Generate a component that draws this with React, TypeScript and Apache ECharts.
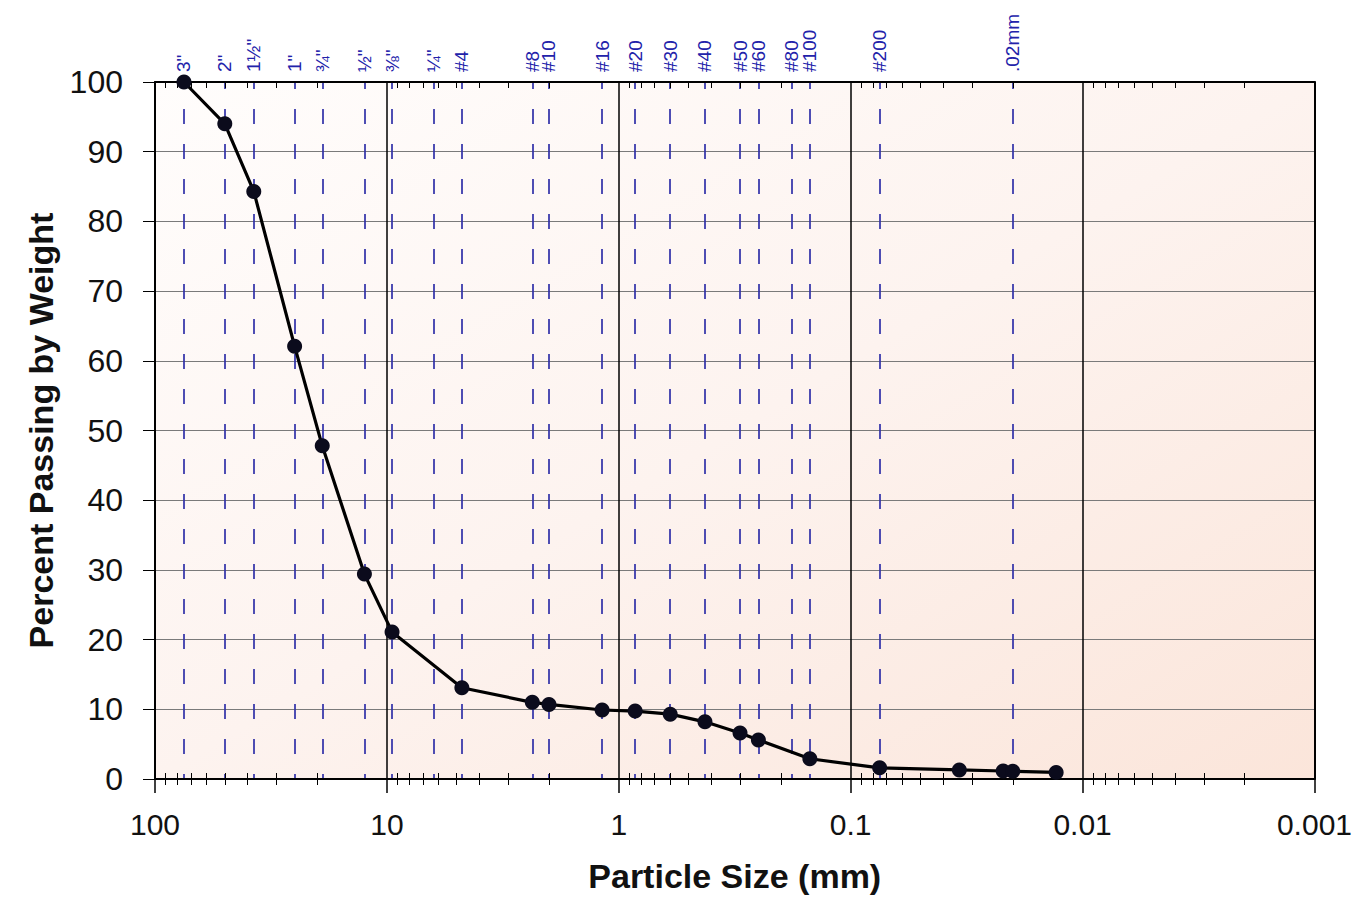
import React, { useEffect, useRef } from "react";
import * as echarts from "echarts";

// Gradation data (particle size in mm, percent passing by weight)
const SIZE_MM = [75, 50, 37.5, 25, 19, 12.5, 9.5, 4.75, 2.36, 2.0, 1.18, 0.85, 0.6, 0.425, 0.3, 0.25, 0.15, 0.075, 0.034, 0.022, 0.02, 0.013];
const PERCENT_PASSING = [100, 94, 84.3, 62.1, 47.8, 29.4, 21.1, 13.1, 11.0, 10.7, 9.9, 9.75, 9.3, 8.2, 6.6, 5.6, 2.9, 1.6, 1.3, 1.15, 1.1, 0.95];

// Sieve designations shown along the top
const SIEVE_MM = [75, 50, 37.5, 25, 19, 12.5, 9.5, 6.3, 4.75, 2.36, 2.0, 1.18, 0.85, 0.6, 0.425, 0.3, 0.25, 0.18, 0.15, 0.075, 0.02];
const SIEVE_LABELS = ['3"', '2"', '1½"', '1"', '¾"', '½"', '⅜"', '¼"', '#4', '#8', '#10', '#16', '#20', '#30', '#40', '#50', '#60', '#80', '#100', '#200', '.02mm'];

// Axis ticks
const DECADES = [0.001, 0.01, 0.1, 1, 10, 100];
const DECADE_LABELS = ["0.001", "0.01", "0.1", "1", "10", "100"];
const MINOR_MULTIPLIERS = [2, 3, 4, 5, 6, 7, 8, 9];

const FONT = "Arial, 'Liberation Sans', sans-serif";

function findLabel(values: number[], labels: string[], v: number): string {
  for (let i = 0; i < values.length; i++) {
    if (Math.abs(Math.log10(v) - Math.log10(values[i])) < 1e-4) return labels[i];
  }
  return "";
}

export default function App() {
  const ref = useRef<HTMLDivElement>(null);

  useEffect(() => {
    if (!ref.current) return;
    const chart = echarts.init(ref.current, null, { renderer: "svg" });

    const minorTicks: number[] = [];
    DECADES.slice(0, -1).forEach((d) => MINOR_MULTIPLIERS.forEach((m) => minorTicks.push(m * d)));

    const baseLog = {
      type: "log" as const,
      logBase: 10,
      min: 0.001,
      max: 100,
      inverse: true,
      gridIndex: 0,
    };

    const option: any = {
      animation: false,
      backgroundColor: "#ffffff",
      grid: {
        left: 155,
        right: 40,
        top: 82,
        bottom: 117,
        show: true,
        borderWidth: 0,
        backgroundColor: new echarts.graphic.LinearGradient(0, 0, 1, 1, [
          { offset: 0, color: "#fffdfc" },
          { offset: 0.5, color: "#fdf3ef" },
          { offset: 1, color: "#fbe5da" },
        ]),
      },
      xAxis: [
        {
          ...baseLog,
          position: "bottom",
          name: "Particle Size (mm)",
          nameLocation: "middle",
          nameGap: 80,
          nameTextStyle: { fontFamily: FONT, fontSize: 34, fontWeight: "bold", color: "#111" },
          axisLine: { show: true, lineStyle: { color: "#000", width: 2 } },
          axisTick: { show: true, length: 14, customValues: DECADES, lineStyle: { color: "#000", width: 1.5 } },
          axisLabel: {
            show: true,
            customValues: DECADES,
            margin: 30,
            fontFamily: FONT,
            fontSize: 30,
            color: "#111",
            formatter: (v: number) => findLabel(DECADES, DECADE_LABELS, v),
          },
          splitLine: { show: true, lineStyle: { color: "#000", width: 1.5 } },
          minorTick: { show: false },
        },
        {
          ...baseLog,
          position: "bottom",
          axisLine: { show: false },
          axisTick: { show: true, length: 6, customValues: minorTicks, lineStyle: { color: "#000", width: 1 } },
          axisLabel: { show: false },
          splitLine: { show: false },
        },
        {
          ...baseLog,
          position: "bottom",
          axisLine: { show: false },
          axisTick: { show: true, inside: true, length: 6, customValues: minorTicks, lineStyle: { color: "#000", width: 1 } },
          axisLabel: { show: false },
          splitLine: { show: false },
        },
        {
          ...baseLog,
          position: "top",
          axisLine: { show: true, lineStyle: { color: "#000", width: 2 } },
          axisTick: { show: true, inside: true, length: 6, customValues: minorTicks, lineStyle: { color: "#000", width: 1 } },
          axisLabel: { show: false },
          splitLine: { show: false },
        },
        {
          ...baseLog,
          position: "top",
          axisLine: { show: false },
          axisTick: { show: false, customValues: SIEVE_MM },
          axisLabel: {
            show: true,
            customValues: SIEVE_MM,
            rotate: -90,
            margin: 10,
            fontFamily: FONT,
            fontSize: 19,
            color: "#2222aa",
            formatter: (v: number) => findLabel(SIEVE_MM, SIEVE_LABELS, v),
          },
          splitLine: { show: true, lineStyle: { color: "#3030a8", width: 1.7, type: [15, 20], dashOffset: 8 } },
        },
      ],
      yAxis: [
        {
          type: "value",
          min: 0,
          max: 100,
          interval: 10,
          position: "left",
          name: "Percent Passing by Weight",
          nameLocation: "middle",
          nameGap: 97,
          nameTextStyle: { fontFamily: FONT, fontSize: 34, fontWeight: "bold", color: "#111" },
          axisLine: { show: true, lineStyle: { color: "#000", width: 2 } },
          axisTick: { show: true, length: 12, lineStyle: { color: "#000", width: 1 } },
          axisLabel: { margin: 32, fontFamily: FONT, fontSize: 32, color: "#111" },
          splitLine: { show: true, lineStyle: { color: "#7a7a7a", width: 1 } },
        },
        {
          type: "value",
          min: 0,
          max: 100,
          interval: 10,
          position: "right",
          axisLine: { show: true, lineStyle: { color: "#000", width: 2 } },
          axisTick: { show: false },
          axisLabel: { show: false },
          splitLine: { show: false },
        },
      ],
      series: [
        {
          type: "line",
          xAxisIndex: 0,
          yAxisIndex: 0,
          data: SIZE_MM.map((s, i) => [s, PERCENT_PASSING[i]]),
          symbol: "circle",
          symbolSize: 15,
          itemStyle: { color: "#0b0b1c" },
          lineStyle: { color: "#000", width: 3.2 },
          z: 10,
        },
      ],
    };

    chart.setOption(option);
    return () => chart.dispose();
  }, []);

  return (
    <div
      ref={ref}
      style={{ position: "absolute", left: 0, top: 0, width: 1355, height: 898, background: "#fff" }}
    />
  );
}
